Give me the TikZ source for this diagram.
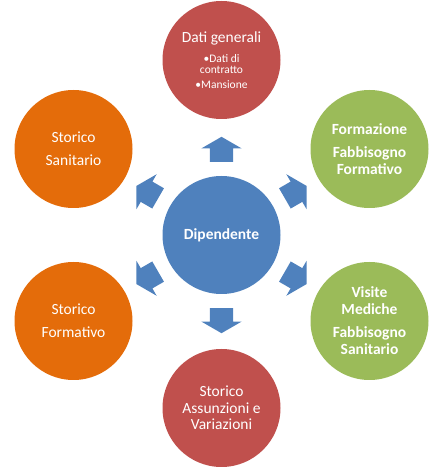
\documentclass[tikz,border=0pt]{standalone}
\usepackage{fontspec}
\setmainfont{Carlito}
\usetikzlibrary{shapes.arrows,calc}
\definecolor{ored}{HTML}{C0504D}
\definecolor{oorange}{HTML}{E46C0A}
\definecolor{ogreen}{HTML}{9BBB59}
\definecolor{oblue}{HTML}{4F81BD}
\newcommand{\smallfnt}{\fontsize{11.5}{13}\selectfont}
\begin{document}
\begin{tikzpicture}[x=1pt,y=1pt,
  bubble/.style={circle, minimum size=118pt, inner sep=0pt, text=white, align=center,
    font=\fontsize{15.5}{17}\selectfont},
  blockarrow/.style={single arrow, fill=oblue, draw=none, inner xsep=0pt, inner ysep=11.5pt,
    minimum height=25pt, single arrow head extend=8.5pt,
    single arrow tip angle=120, anchor=tail}
]
\useasboundingbox (0,0) rectangle (445,469);
\node[bubble, fill=oblue, font=\fontsize{15.5}{17}\selectfont\bfseries] (dip) at (221.5,234) {Dipendente};
\node[bubble, fill=ored] (gen) at (221.5,409) {Dati generali\\[3pt]{\smallfnt •Dati di}\\[-5.7pt]{\smallfnt contratto}\\[-1.7pt]{\smallfnt •Mansione}};
\node[bubble, fill=ored] (ass) at (221.5,61) {Storico\\[-0.5pt]Assunzioni e\\[-0.5pt]Variazioni};
\node[bubble, fill=oorange] (san) at (73.5,320) {Storico\\[6.3pt]Sanitario};
\node[bubble, fill=oorange] (for) at (73.5,148) {Storico\\[6.3pt]Formativo};
\node[bubble, fill=ogreen, font=\fontsize{15.5}{17}\selectfont\bfseries] (fab) at (369.5,320) {Formazione\\[6pt]Fabbisogno\\Formativo};
\node[bubble, fill=ogreen, font=\fontsize{15.5}{17}\selectfont\bfseries] (vis) at (369.5,148) {Visite\\Mediche\\[6pt]Fabbisogno\\Sanitario};
\foreach \ang/\nm in {90/aT,30/aTR,-30/aBR,-90/aB,210/aBL,150/aTL}{
  \node[blockarrow, rotate=\ang] (\nm) at ($(dip.center)+(\ang:73)$) {};
}
\end{tikzpicture}
\end{document}
